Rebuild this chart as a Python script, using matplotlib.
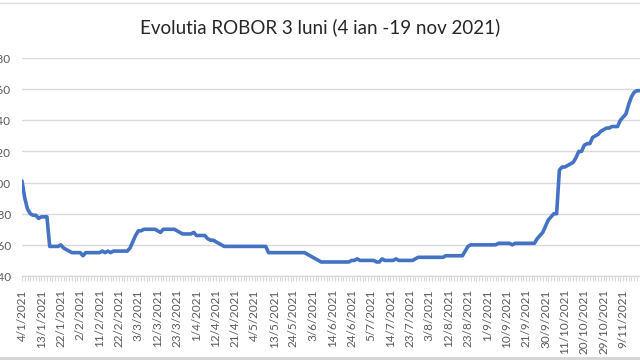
import matplotlib
matplotlib.use("Agg")
import matplotlib.pyplot as plt
import pandas as pd

title = "Evolutia ROBOR 3 luni (4 ian -19 nov 2021)"
start_date = "2021-01-04"
end_date = "2021-11-19"
holidays = ["2021-04-30", "2021-05-03", "2021-06-01", "2021-06-21"]

robor_3m = [
    2.01, 1.90, 1.83, 1.80, 1.79, 1.79, 1.77, 1.78, 1.78, 1.78,
    1.59, 1.59, 1.59, 1.59, 1.60, 1.58, 1.57, 1.56, 1.55, 1.55,
    1.55, 1.55, 1.53, 1.55, 1.55, 1.55, 1.55, 1.55, 1.55, 1.56,
    1.55, 1.56, 1.55, 1.56, 1.56, 1.56, 1.56, 1.56, 1.56, 1.58,
    1.62, 1.66, 1.69, 1.69, 1.70, 1.70, 1.70, 1.70, 1.70, 1.69,
    1.68, 1.70, 1.70, 1.70, 1.70, 1.70, 1.69, 1.68, 1.67, 1.67,
    1.67, 1.67, 1.68, 1.66, 1.66, 1.66, 1.66, 1.64, 1.63, 1.63,
    1.62, 1.61, 1.60, 1.59, 1.59, 1.59, 1.59, 1.59, 1.59, 1.59,
    1.59, 1.59, 1.59, 1.59, 1.59, 1.59, 1.59, 1.59, 1.59, 1.55,
    1.55, 1.55, 1.55, 1.55, 1.55, 1.55, 1.55, 1.55, 1.55, 1.55,
    1.55, 1.55, 1.55, 1.54, 1.53, 1.52, 1.51, 1.50, 1.49, 1.49,
    1.49, 1.49, 1.49, 1.49, 1.49, 1.49, 1.49, 1.49, 1.49, 1.50,
    1.50, 1.51, 1.50, 1.50, 1.50, 1.50, 1.50, 1.50, 1.49, 1.49,
    1.51, 1.50, 1.50, 1.50, 1.50, 1.51, 1.50, 1.50, 1.50, 1.50,
    1.50, 1.50, 1.51, 1.52, 1.52, 1.52, 1.52, 1.52, 1.52, 1.52,
    1.52, 1.52, 1.52, 1.53, 1.53, 1.53, 1.53, 1.53, 1.53, 1.53,
    1.56, 1.59, 1.60, 1.60, 1.60, 1.60, 1.60, 1.60, 1.60, 1.60,
    1.60, 1.60, 1.61, 1.61, 1.61, 1.61, 1.61, 1.60, 1.61, 1.61,
    1.61, 1.61, 1.61, 1.61, 1.61, 1.61, 1.64, 1.66, 1.68, 1.72,
    1.76, 1.78, 1.80, 1.80, 2.08, 2.10, 2.10, 2.11, 2.12, 2.13,
    2.16, 2.20, 2.20, 2.24, 2.25, 2.25, 2.29, 2.30, 2.31, 2.33,
    2.34, 2.35, 2.35, 2.36, 2.36, 2.36, 2.40, 2.42, 2.44, 2.50,
    2.55, 2.58, 2.59, 2.59, 2.59, 2.60,
]
y_ticks = [1.40, 1.60, 1.80, 2.00, 2.20, 2.40, 2.60, 2.80]
label_step = 7

dates = pd.bdate_range(start_date, end_date, freq="C", holidays=holidays)
dates = list(dates[:len(robor_3m)])
n = len(robor_3m)
x = list(range(n))

plt.rcParams["font.family"] = ["Lato", "DejaVu Sans"]
fig = plt.figure(figsize=(6.4, 3.6), dpi=100)
W, H = 640, 360
ax_left, ax_right, ax_top, ax_bot = 22, 22 + 2.77 * (n - 1), 58, 276
ax = fig.add_axes([ax_left / W, 1 - ax_bot / H, (ax_right - ax_left) / W, (ax_bot - ax_top) / H])
ax.set_xlim(0, n - 1)
ax.set_ylim(y_ticks[0], y_ticks[-1])

ax.plot(x, robor_3m, color="#4472C4", lw=2.6, solid_joinstyle="round", solid_capstyle="round", zorder=3)

ax.set_yticks(y_ticks)
ax.set_yticklabels([f"{v:.2f}".replace(".", ",") for v in y_ticks])
ax.yaxis.grid(True, color="#d9d9d9", lw=1)
ax.set_axisbelow(True)
for s in ["left", "right", "top"]:
    ax.spines[s].set_visible(False)
ax.spines["bottom"].set_color("#d9d9d9")
ax.spines["bottom"].set_linewidth(1)
ax.tick_params(axis="y", length=0, pad=8, labelsize=8.5, labelcolor="#595959")

# minor ticks at every category, major labels every 7th
ax.set_xticks(x, minor=True)
major = list(range(0, n - 7, label_step))
ax.set_xticks(major)
ax.set_xticklabels([f"{dates[i].day}/{dates[i].month}/{dates[i].year}" for i in major],
                   rotation=90, fontsize=8.5, color="#595959")
ax.tick_params(axis="x", which="both", direction="out", color="#d9d9d9", width=0.8, length=3.5)
ax.tick_params(axis="x", which="major", pad=6)

fig.text(0.5, 1 - 27 / H, title, ha="center", va="center", fontsize=13.5, color="#262626")

# frame lines from the surrounding document
fig.add_artist(plt.Line2D([0, 1], [1 - 3 / H, 1 - 3 / H], color="#e0e0e0", lw=1))
fig.add_artist(plt.Line2D([0, 1], [1 - 358 / H, 1 - 358 / H], color="#d4d4d4", lw=2))

fig.savefig("out.png", dpi=100)
